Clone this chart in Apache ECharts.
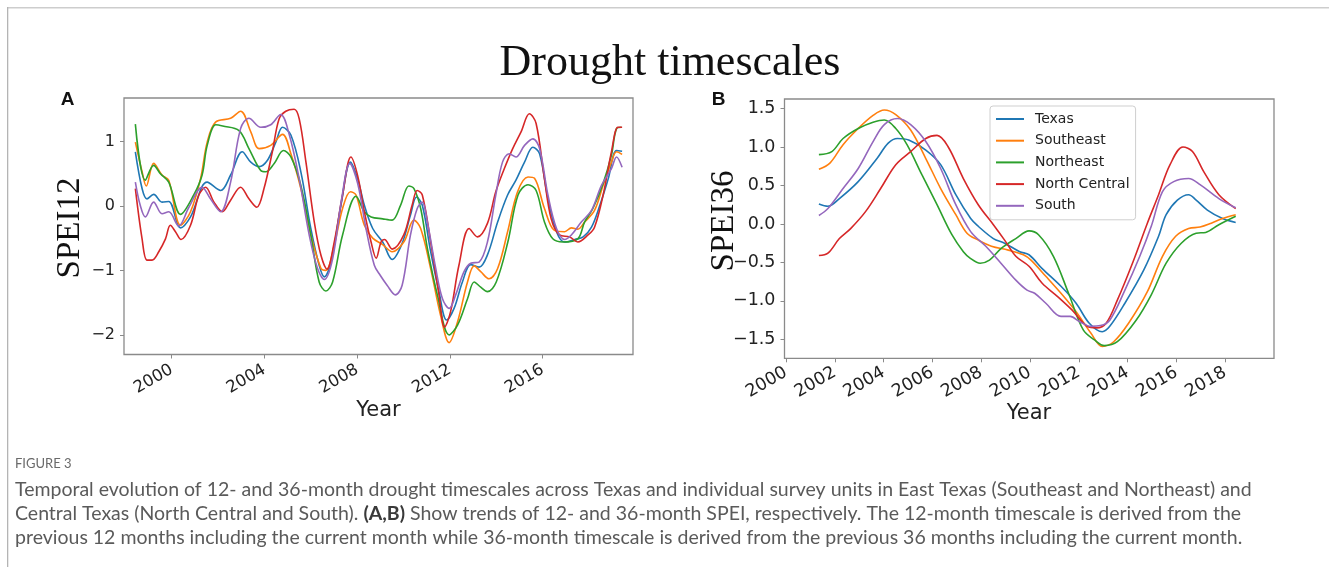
<!DOCTYPE html>
<html>
<head>
<meta charset="utf-8">
<script src="https://cdn.jsdelivr.net/npm/echarts@6/dist/echarts.min.js"></script>
<style>
  html, body { margin: 0; padding: 0; background: #fff; }
  #chart { width: 1329px; height: 572px; }
</style>
</head>
<body>
<div id="chart"></div>
<script>
// Region names and line colours
const regions = ['Texas', 'Southeast', 'Northeast', 'North Central', 'South'];
const colors = ['#1f77b4', '#ff7f0e', '#2ca02c', '#d62728', '#9467bd'];

// Tick labels
const ticksA_x = [2000, 2004, 2008, 2012, 2016];
const ticksA_y = [-2, -1, 0, 1];
const ticksB_x = [2000, 2002, 2004, 2006, 2008, 2010, 2012, 2014, 2016, 2018];
const ticksB_y = [-1.5, -1.0, -0.5, 0.0, 0.5, 1.0, 1.5];

// SPEI-12 by region: [year, SPEI]
const spei12Texas = [[1998.43,0.84],[1998.72,0.27],[1998.93,0.11],[1999.22,0.18],[1999.58,0.06],[1999.87,0.07],[2000.38,-0.34],[2000.81,-0.17],[2001.53,0.37],[2002.11,0.24],[2002.54,0.48],[2003.04,0.84],[2003.41,0.68],[2003.77,0.61],[2004.13,0.71],[2004.49,0.99],[2004.78,1.22],[2005.14,1.10],[2005.57,0.53],[2006.0,-0.35],[2006.36,-0.92],[2006.58,-1.10],[2006.87,-0.87],[2007.3,0.01],[2007.71,0.68],[2008.02,0.42],[2008.31,0.01],[2008.67,-0.35],[2009.1,-0.56],[2009.51,-0.83],[2009.94,-0.58],[2010.3,-0.14],[2010.56,0.14],[2010.81,0.01],[2011.17,-0.71],[2011.53,-1.33],[2011.86,-1.77],[2012.18,-1.59],[2012.54,-1.18],[2012.9,-0.91],[2013.26,-0.95],[2013.62,-0.76],[2014.06,-0.25],[2014.49,0.17],[2014.85,0.40],[2015.22,0.68],[2015.58,0.91],[2015.87,0.81],[2016.23,0.11],[2016.6,-0.40],[2016.95,-0.56],[2017.39,-0.52],[2017.75,-0.48],[2018.11,-0.33],[2018.47,0.01],[2018.83,0.42],[2019.19,0.86],[2019.43,0.85]];
const spei12Southeast = [[1998.43,0.99],[1998.72,0.53],[1998.9,0.31],[1999.22,0.66],[1999.58,0.48],[1999.87,0.40],[2000.38,-0.30],[2000.81,-0.09],[2001.24,0.42],[2001.53,0.99],[2001.89,1.30],[2002.54,1.36],[2002.97,1.47],[2003.41,1.15],[2003.77,0.89],[2004.27,0.94],[2004.78,1.11],[2005.14,0.81],[2005.57,0.27],[2006.0,-0.45],[2006.44,-0.97],[2006.65,-1.0],[2007.01,-0.61],[2007.37,-0.04],[2007.71,0.22],[2007.95,0.17],[2008.31,-0.30],[2008.67,-0.50],[2009.1,-0.60],[2009.51,-0.71],[2010.01,-0.56],[2010.45,-0.22],[2010.74,-0.35],[2011.17,-0.97],[2011.6,-1.70],[2011.97,-2.12],[2012.33,-1.80],[2012.76,-1.18],[2013.05,-0.93],[2013.33,-1.02],[2013.69,-1.13],[2014.06,-0.97],[2014.49,-0.40],[2014.92,0.22],[2015.37,0.45],[2015.65,0.43],[2016.08,-0.04],[2016.51,-0.38],[2016.95,-0.40],[2017.24,-0.34],[2017.52,-0.36],[2017.81,-0.25],[2018.24,-0.07],[2018.61,0.32],[2018.97,0.68],[2019.19,0.84],[2019.43,0.80]];
const spei12Northeast = [[1998.43,1.27],[1998.86,0.40],[1999.22,0.63],[1999.51,0.50],[1999.87,0.37],[2000.38,-0.13],[2000.95,0.17],[2001.31,0.48],[2001.53,0.94],[2001.9,1.26],[2002.2,1.24],[2002.9,1.17],[2003.33,0.89],[2003.84,0.55],[2004.06,0.53],[2004.42,0.66],[2004.82,0.86],[2005.14,0.76],[2005.57,0.32],[2006.0,-0.45],[2006.36,-1.18],[2006.65,-1.32],[2006.94,-1.18],[2007.37,-0.45],[2007.95,0.15],[2008.31,-0.09],[2008.6,-0.17],[2009.1,-0.20],[2009.51,-0.22],[2009.87,0.01],[2010.23,0.31],[2010.45,0.27],[2010.74,-0.04],[2011.03,-0.66],[2011.46,-1.38],[2011.97,-2.0],[2012.33,-1.85],[2012.76,-1.44],[2013.05,-1.18],[2013.33,-1.26],[2013.62,-1.33],[2014.0,-1.18],[2014.5,-0.56],[2014.94,0.17],[2015.37,0.33],[2015.72,0.24],[2016.08,-0.25],[2016.44,-0.51],[2016.88,-0.56],[2017.52,-0.51],[2017.81,-0.25],[2018.17,-0.04],[2018.61,0.35],[2018.97,0.79],[2019.19,1.20],[2019.4,1.22]];
const spei12NorthCentral = [[1998.43,0.27],[1998.72,-0.51],[1998.93,-0.84],[1999.15,-0.84],[1999.44,-0.71],[1999.73,-0.51],[1999.94,-0.30],[2000.16,-0.40],[2000.4,-0.52],[2000.81,-0.30],[2001.17,0.17],[2001.46,0.29],[2001.82,0.06],[2002.18,-0.09],[2002.54,0.09],[2002.97,0.29],[2003.33,0.11],[2003.67,-0.02],[2003.98,0.27],[2004.34,0.84],[2004.63,1.35],[2004.92,1.47],[2005.28,1.50],[2005.5,1.35],[2005.79,0.68],[2006.15,-0.25],[2006.44,-0.77],[2006.7,-0.98],[2007.01,-0.56],[2007.37,0.17],[2007.73,0.76],[2008.02,0.47],[2008.31,-0.09],[2008.6,-0.56],[2008.82,-0.81],[2009.03,-0.56],[2009.18,-0.52],[2009.51,-0.67],[2010.01,-0.45],[2010.37,0.01],[2010.59,0.24],[2010.81,0.17],[2011.17,-0.56],[2011.53,-1.38],[2011.77,-1.88],[2012.03,-1.64],[2012.39,-0.92],[2012.83,-0.35],[2013.19,-0.48],[2013.62,-0.27],[2013.98,0.22],[2014.35,0.58],[2014.71,0.89],[2015.07,1.15],[2015.43,1.43],[2015.72,1.28],[2016.08,0.42],[2016.37,-0.20],[2016.73,-0.45],[2017.17,-0.48],[2017.52,-0.56],[2017.96,-0.45],[2018.24,-0.33],[2018.61,0.17],[2018.97,0.84],[2019.25,1.22],[2019.43,1.22]];
const spei12South = [[1998.43,0.37],[1998.64,0.01],[1998.86,-0.17],[1999.22,0.06],[1999.58,-0.12],[1999.87,-0.09],[2000.3,-0.31],[2000.74,-0.02],[2001.31,0.29],[2001.67,0.11],[2002.11,-0.09],[2002.54,0.37],[2002.97,1.20],[2003.33,1.36],[2003.84,1.22],[2004.27,1.26],[2004.7,1.42],[2005.06,1.12],[2005.5,0.42],[2005.93,-0.45],[2006.29,-0.97],[2006.58,-1.14],[2006.94,-0.82],[2007.33,0.11],[2007.68,0.66],[2008.02,0.35],[2008.38,-0.35],[2008.74,-0.92],[2009.0,-1.08],[2009.29,-1.23],[2009.65,-1.38],[2009.94,-1.23],[2010.3,-0.45],[2010.59,-0.04],[2010.81,0.06],[2011.03,-0.25],[2011.39,-0.97],[2011.68,-1.44],[2011.97,-1.59],[2012.25,-1.38],[2012.61,-1.02],[2012.9,-0.89],[2013.26,-0.87],[2013.62,-0.56],[2013.98,0.17],[2014.27,0.68],[2014.56,0.81],[2014.85,0.76],[2015.22,0.94],[2015.58,1.04],[2015.87,0.89],[2016.23,0.17],[2016.6,-0.35],[2016.95,-0.52],[2017.24,-0.45],[2017.67,-0.25],[2018.11,-0.07],[2018.54,0.32],[2018.97,0.58],[2019.19,0.76],[2019.43,0.60]];

// SPEI-36 by region: [year, SPEI]
const spei36Texas = [[2001.35,0.26],[2001.72,0.23],[2002.19,0.33],[2002.96,0.55],[2003.73,0.85],[2004.19,1.05],[2004.57,1.11],[2005.03,1.09],[2005.73,0.96],[2006.34,0.77],[2006.96,0.38],[2007.57,0.07],[2007.88,-0.03],[2008.5,-0.19],[2008.96,-0.25],[2009.58,-0.36],[2009.96,-0.40],[2010.5,-0.58],[2011.27,-0.81],[2011.89,-1.03],[2012.43,-1.29],[2012.96,-1.40],[2013.27,-1.33],[2013.89,-1.03],[2014.66,-0.60],[2015.27,-0.16],[2015.58,0.12],[2016.04,0.31],[2016.5,0.38],[2016.81,0.31],[2017.27,0.18],[2017.89,0.07],[2018.43,0.02]];
const spei36Southeast = [[2001.35,0.71],[2001.8,0.79],[2002.34,1.03],[2002.96,1.24],[2003.57,1.41],[2004.03,1.48],[2004.5,1.42],[2005.11,1.22],[2005.73,0.85],[2006.34,0.46],[2006.96,0.12],[2007.42,-0.12],[2007.88,-0.21],[2008.42,-0.29],[2009.11,-0.34],[2009.73,-0.40],[2010.04,-0.47],[2010.65,-0.68],[2011.27,-0.90],[2011.89,-1.14],[2012.5,-1.42],[2012.96,-1.59],[2013.43,-1.53],[2014.04,-1.29],[2014.81,-0.88],[2015.43,-0.42],[2015.97,-0.16],[2016.5,-0.06],[2016.97,-0.04],[2017.43,0.01],[2017.89,0.07],[2018.43,0.12]];
const spei36Northeast = [[2001.35,0.90],[2001.88,0.94],[2002.34,1.11],[2002.96,1.24],[2003.57,1.32],[2004.03,1.35],[2004.5,1.24],[2004.96,1.03],[2005.57,0.64],[2006.19,0.25],[2006.8,-0.14],[2007.27,-0.36],[2007.57,-0.45],[2007.96,-0.51],[2008.34,-0.47],[2008.81,-0.32],[2009.42,-0.19],[2009.96,-0.09],[2010.35,-0.14],[2010.96,-0.42],[2011.58,-0.90],[2012.19,-1.38],[2012.66,-1.51],[2013.04,-1.58],[2013.58,-1.53],[2014.35,-1.25],[2014.97,-0.92],[2015.58,-0.51],[2016.2,-0.25],[2016.81,-0.12],[2017.2,-0.11],[2017.74,-0.01],[2018.43,0.10]];
const spei36NorthCentral = [[2001.35,-0.41],[2001.72,-0.38],[2002.19,-0.19],[2002.65,-0.06],[2003.26,0.16],[2003.88,0.46],[2004.5,0.77],[2005.11,0.94],[2005.73,1.11],[2006.19,1.15],[2006.65,1.00],[2007.27,0.59],[2007.88,0.25],[2008.5,-0.01],[2008.96,-0.21],[2009.42,-0.42],[2009.96,-0.55],[2010.5,-0.77],[2011.12,-0.94],[2011.73,-1.12],[2012.35,-1.33],[2012.73,-1.35],[2013.12,-1.29],[2013.58,-0.99],[2014.2,-0.51],[2014.81,0.01],[2015.27,0.38],[2015.74,0.77],[2016.27,1.00],[2016.66,0.94],[2017.12,0.68],[2017.74,0.38],[2018.43,0.20]];
const spei36South = [[2001.35,0.11],[2001.72,0.20],[2002.34,0.46],[2002.96,0.72],[2003.57,1.07],[2004.03,1.29],[2004.57,1.37],[2005.11,1.29],[2005.73,1.07],[2006.34,0.72],[2006.96,0.25],[2007.57,-0.10],[2008.19,-0.29],[2008.81,-0.51],[2009.42,-0.73],[2009.88,-0.86],[2010.19,-0.90],[2010.65,-1.03],[2011.27,-1.20],[2011.65,-1.20],[2012.04,-1.27],[2012.5,-1.33],[2012.89,-1.32],[2013.27,-1.25],[2013.89,-0.86],[2014.5,-0.42],[2014.97,-0.03],[2015.43,0.42],[2015.89,0.55],[2016.5,0.59],[2016.97,0.51],[2017.74,0.33],[2018.43,0.21]];

const spei12 = [spei12Texas, spei12Southeast, spei12Northeast, spei12NorthCentral, spei12South];
const spei36 = [spei36Texas, spei36Southeast, spei36Northeast, spei36NorthCentral, spei36South];

const axisGrey = '#8a8a8a';
const tickFont = 'DejaVu Sans';
const minus = (s) => s.replace('-', '\u2212');

function xAxisFor(gridIndex, min, max, ticks, fontSize, margin) {
  return {
    type: 'value', gridIndex, min, max, position: 'bottom',
    axisLine: { show: false, onZero: false },
    splitLine: { show: false },
    axisTick: { show: true, customValues: ticks, length: 4, lineStyle: { color: axisGrey, width: 1 } },
    axisLabel: {
      customValues: ticks, rotate: 30, margin,
      fontFamily: tickFont, fontSize, color: '#222',
      formatter: (v) => String(Math.round(v))
    }
  };
}
function yAxisFor(gridIndex, min, max, ticks, fontSize, decimals) {
  return {
    type: 'value', gridIndex, min, max, position: 'left',
    axisLine: { show: false, onZero: false },
    splitLine: { show: false },
    axisTick: { show: true, customValues: ticks, length: 4, lineStyle: { color: axisGrey, width: 1 } },
    axisLabel: {
      customValues: ticks, margin: 9,
      fontFamily: tickFont, fontSize, color: '#222',
      formatter: (v) => minus(v.toFixed(decimals))
    }
  };
}

const series = [];
regions.forEach((name, i) => {
  series.push({
    name, type: 'line', xAxisIndex: 0, yAxisIndex: 0,
    data: spei12[i], showSymbol: false, smooth: 0.35,
    lineStyle: { color: colors[i], width: 1.6 }, itemStyle: { color: colors[i] }
  });
});
regions.forEach((name, i) => {
  series.push({
    name, type: 'line', xAxisIndex: 1, yAxisIndex: 1,
    data: spei36[i], showSymbol: false, smooth: 0.35,
    lineStyle: { color: colors[i], width: 1.6 }, itemStyle: { color: colors[i] }
  });
});

const captionFont = 'Lato';
const captionColor = '#5a5a5a';
const captionSize = 19.5;
const captionStyle = (text) => ({
  text, font: captionSize + 'px "' + captionFont + '"', fill: captionColor, align: 'left', verticalAlign: 'middle'
});

const chart = echarts.init(document.getElementById('chart'), null, { renderer: 'canvas' });
chart.setOption({
  animation: false,
  backgroundColor: '#fff',
  grid: [
    { left: 124, top: 98, width: 509, height: 256.5, show: true, borderColor: axisGrey, borderWidth: 1.3, backgroundColor: 'transparent' },
    { left: 784.5, top: 99, width: 489.5, height: 259.3, show: true, borderColor: axisGrey, borderWidth: 1.3, backgroundColor: 'transparent' }
  ],
  xAxis: [
    xAxisFor(0, 1997.94, 2019.9, ticksA_x, 16.5, 14),
    xAxisFor(1, 1999.94, 2020.0, ticksB_x, 17.5, 13)
  ],
  yAxis: [
    yAxisFor(0, -2.305, 1.675, ticksA_y, 16, 0),
    yAxisFor(1, -1.745, 1.623, ticksB_y, 17.5, 1)
  ],
  legend: {
    data: regions, orient: 'vertical',
    left: 990, top: 106,
    icon: 'rect', itemWidth: 28, itemHeight: 2, itemGap: 7.7,
    padding: [6, 6, 7, 6],
    borderColor: '#cfcfcf', borderWidth: 1, borderRadius: 3,
    backgroundColor: 'rgba(255,255,255,0.8)',
    textStyle: { fontFamily: tickFont, fontSize: 14, color: '#222', lineHeight: 14, padding: [0, 0, 0, 6] }
  },
  series,
  graphic: [
    { type: 'rect', silent: true, shape: { x: 7, y: 7, width: 1322, height: 1.5 }, style: { fill: '#cdcdcd' } },
    { type: 'rect', silent: true, shape: { x: 7, y: 7, width: 1.3, height: 560 }, style: { fill: '#b4b4b4' } },
    { type: 'text', silent: true, x: 670, y: 63, style: { text: 'Drought timescales', font: '44px "Liberation Serif"', fill: '#111', align: 'center', verticalAlign: 'middle' } },
    { type: 'text', silent: true, x: 67.5, y: 100, style: { text: 'A', font: 'bold 19px "Liberation Sans"', fill: '#111', align: 'center', verticalAlign: 'middle' } },
    { type: 'text', silent: true, x: 718.5, y: 100, style: { text: 'B', font: 'bold 19px "Liberation Sans"', fill: '#111', align: 'center', verticalAlign: 'middle' } },
    { type: 'text', silent: true, x: 70, y: 228, rotation: Math.PI / 2, style: { text: 'SPEI12', font: '33px "Liberation Serif"', fill: '#111', align: 'center', verticalAlign: 'middle' } },
    { type: 'text', silent: true, x: 724, y: 221, rotation: Math.PI / 2, style: { text: 'SPEI36', font: '33px "Liberation Serif"', fill: '#111', align: 'center', verticalAlign: 'middle' } },
    { type: 'text', silent: true, x: 378.5, y: 411, style: { text: 'Year', font: '21px "DejaVu Sans"', fill: '#222', align: 'center', verticalAlign: 'middle' } },
    { type: 'text', silent: true, x: 1029, y: 414, style: { text: 'Year', font: '21px "DejaVu Sans"', fill: '#222', align: 'center', verticalAlign: 'middle' } },
    { type: 'text', silent: true, x: 15, y: 464, style: { text: 'FIGURE 3', font: '13px "Lato"', fill: '#6a6a6a', align: 'left', verticalAlign: 'middle' } },
    { type: 'text', silent: true, x: 15, y: 490, style: captionStyle('Temporal evolution of 12- and 36-month drought timescales across Texas and individual survey units in East Texas (Southeast and Northeast) and') },
    { type: 'text', silent: true, x: 15, y: 514, style: {
        text: '{n|Central Texas (North Central and South). }{b|(A,B)}{n| Show trends of 12- and 36-month SPEI, respectively. The 12-month timescale is derived from the}',
        align: 'left', verticalAlign: 'middle',
        rich: {
          n: { fontFamily: captionFont, fontSize: captionSize, fill: captionColor },
          b: { fontFamily: captionFont, fontSize: captionSize, fill: '#3a3a3a', fontWeight: 'bold' }
        } } },
    { type: 'text', silent: true, x: 15, y: 538, style: captionStyle('previous 12 months including the current month while 36-month timescale is derived from the previous 36 months including the current month.') }
  ]
});
</script>
</body>
</html>
